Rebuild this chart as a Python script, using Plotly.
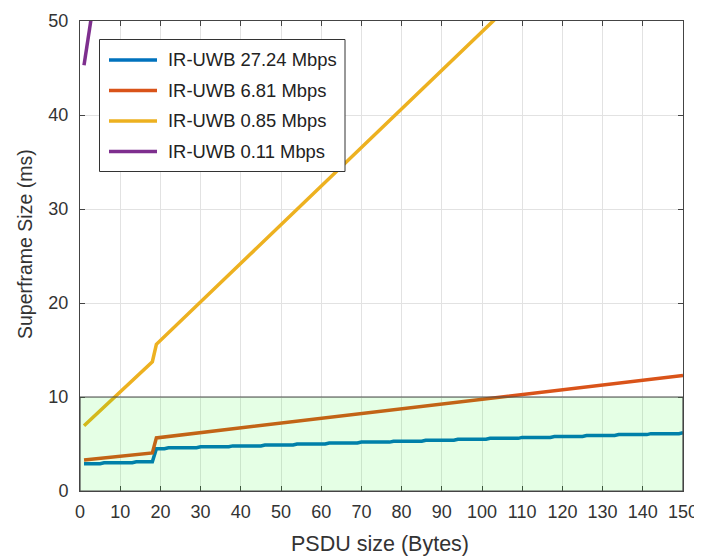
import plotly.graph_objects as go

# ---------------- data ----------------
blue_x = [1, 5, 6, 13, 14, 18, 19, 21, 22, 29, 30, 37, 38, 45, 46, 53, 54, 61, 62, 69, 70,
          77, 78, 85, 86, 93, 94, 101, 102, 109, 110, 117, 118, 125, 126, 133, 134, 141, 142, 149, 150]
blue_y = [2.9, 2.9, 3.0, 3.0, 3.1, 3.1, 4.5, 4.5, 4.6, 4.6, 4.7, 4.7, 4.8, 4.8, 4.9, 4.9, 5.0, 5.0,
          5.1, 5.1, 5.2, 5.2, 5.3, 5.3, 5.4, 5.4, 5.5, 5.5, 5.6, 5.6, 5.7, 5.7, 5.8, 5.8, 5.9, 5.9,
          6.0, 6.0, 6.1, 6.1, 6.2]

orange_x = [1, 18, 19, 150]
orange_y = [3.3, 4.05, 5.65, 12.3]

yellow_x = [1, 18, 19, 70, 104]
yellow_y = [6.95, 13.75, 15.6, 36.6, 50.5]

purple_x = [1, 2, 3]
purple_y = [45.3, 48.1, 50.9]

series_names = ["IR-UWB 27.24 Mbps", "IR-UWB 6.81 Mbps", "IR-UWB 0.85 Mbps", "IR-UWB 0.11 Mbps"]
series_colors = ["#0072BD", "#D95319", "#EDB120", "#7E2F8E"]

x_ticks = list(range(0, 151, 10))
y_ticks = list(range(0, 51, 10))

# ---------------- figure ----------------
# page body has an 8px margin, so the figure is 8px smaller than the window
OFF = 8
W, H = 702 - OFF, 556 - OFF
PL, PR, PT, PB = 80, 683, 21, 491          # plot area in window pixels
L, R, T, B = PL - OFF, 702 - PR, PT - OFF, 556 - PB
pw, ph = PR - PL, PB - PT

def px(x):
    return (x - PL) / pw

def py(y):
    return (PB - y) / ph

FONT = "Liberation Sans, Arial, sans-serif"
fig = go.Figure()
for xs, ys, nm, c in zip([blue_x, orange_x, yellow_x, purple_x],
                         [blue_y, orange_y, yellow_y, purple_y],
                         series_names, series_colors):
    fig.add_trace(go.Scatter(x=xs, y=ys, mode="lines", name=nm,
                             line=dict(color=c, width=3.5), showlegend=False))

axis_common = dict(showline=True, linecolor="#444444", linewidth=1, mirror="ticks",
                   ticks="inside", ticklen=5, tickcolor="#444444", showgrid=True,
                   gridcolor="#e2e2e2", gridwidth=1, zeroline=False, automargin=False,
                   tickfont=dict(family=FONT, size=18, color="#333333"))

fig.update_xaxes(range=[0, 150], tickvals=x_ticks, ticklabelstandoff=4, **axis_common)
fig.update_yaxes(range=[0, 50], tickvals=y_ticks, ticklabelstandoff=7, **axis_common)

shapes = [
    dict(type="rect", xref="x", yref="y", x0=0, x1=150, y0=0, y1=10,
         fillcolor="rgba(0,255,0,0.1)", line=dict(color="#4a4a4a", width=1.2), layer="above"),
    dict(type="rect", xref="paper", yref="paper", x0=px(99.5), x1=px(345), y0=py(171.5), y1=py(39.5),
         fillcolor="white", line=dict(color="#333333", width=1), layer="above"),
]
annotations = []
rows = [60, 90.5, 121, 151.5]
for ry, nm, c in zip(rows, series_names, series_colors):
    shapes.append(dict(type="line", xref="paper", yref="paper", x0=px(109), x1=px(157),
                       y0=py(ry), y1=py(ry), line=dict(color=c, width=3.5), layer="above"))
    annotations.append(dict(xref="paper", yref="paper", x=px(166), y=py(ry), text=nm,
                            showarrow=False, xanchor="left", yanchor="middle",
                            font=dict(family=FONT, size=18.4, color="#222222")))

annotations.append(dict(xref="paper", yref="paper", x=px(380), y=py(544), text="PSDU size (Bytes)",
                        showarrow=False, xanchor="center", yanchor="middle",
                        font=dict(family=FONT, size=21.5, color="#333333")))
annotations.append(dict(xref="paper", yref="paper", x=px(25), y=py(244), text="Superframe Size (ms)",
                        showarrow=False, xanchor="center", yanchor="middle", textangle=-90,
                        font=dict(family=FONT, size=19.5, color="#333333")))

fig.update_layout(width=W, height=H, margin=dict(l=L, r=R, t=T, b=B, autoexpand=False),
                  plot_bgcolor="white", paper_bgcolor="white",
                  shapes=shapes, annotations=annotations, showlegend=False)

fig.write_html("out.html")
